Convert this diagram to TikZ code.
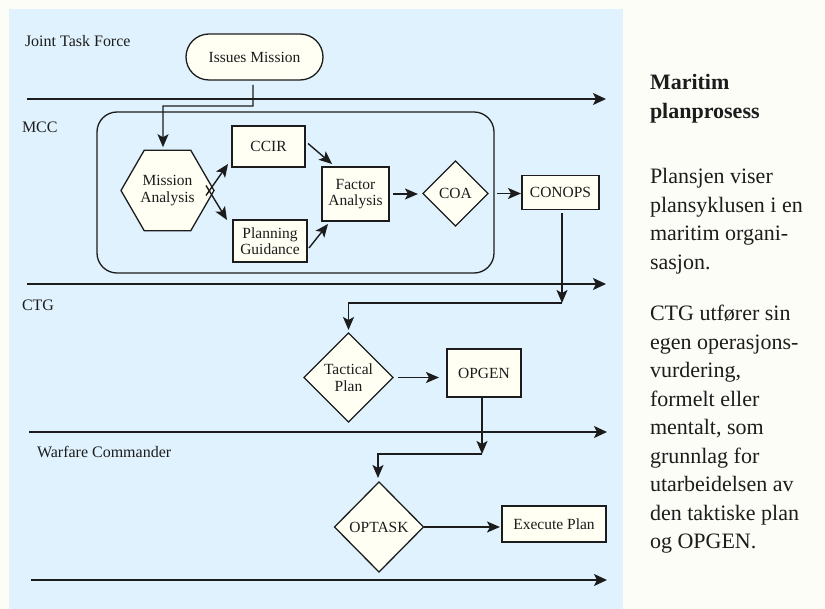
\documentclass[tikz,border=0pt]{standalone}
\usepackage{fontspec}
\setmainfont{Liberation Serif}
\usetikzlibrary{shapes.geometric,arrows.meta,calc}
\definecolor{bluebg}{RGB}{223,242,254}
\definecolor{cream}{RGB}{255,255,244}
\definecolor{panel}{RGB}{253,253,248}
\definecolor{ink}{RGB}{28,28,28}
\newcommand\dgfont{\fontsize{15.5}{16.5}\selectfont}
\newcommand\lanefont{\fontsize{16}{18}\selectfont}
\newcommand\sidefont{\fontsize{22}{28.5}\selectfont}
\begin{document}
\begin{tikzpicture}[x=1pt,y=-1pt,
  every node/.style={inner sep=0pt,outer sep=0pt,text=ink},
  shp/.style={draw=ink,fill=cream,line width=1.3pt,font=\dgfont,align=center},
  boxn/.style={shp,rectangle},
  stadium/.style={shp,rectangle,rounded corners=23pt,minimum width=137pt,minimum height=46pt},
  hexa/.style={shp,regular polygon,regular polygon sides=6,minimum size=93pt},
  dia/.style={shp,diamond,aspect=1},
  container/.style={draw=ink,line width=1.3pt,rectangle,rounded corners=20pt},
  lanelbl/.style={font=\lanefont,anchor=base west},
  arr/.style={draw=ink,line width=1.4pt,-{Stealth[length=13pt,width=11pt,inset=3pt]}},
  lane/.style={draw=ink,line width=1.5pt,-{Stealth[length=13pt,width=12pt,inset=3pt]}}
]
\useasboundingbox (0,0) rectangle (825,609);
\fill[panel] (0,0) rectangle (825,609);
\fill[bluebg] (9,9) rectangle (623,609);

% lane labels
\node[lanelbl] (ljtf) at (25,46.5) {Joint Task Force};
\node[lanelbl] (lmcc) at (22,133) {MCC};
\node[lanelbl] (lctg) at (22,311) {CTG};
\node[lanelbl] (lwc) at (37,458) {Warfare Commander};

% lane lines
\coordinate (l1s) at (27,99);  \coordinate (l1e) at (606,99);
\coordinate (l2s) at (27,284); \coordinate (l2e) at (606,284);
\coordinate (l3s) at (29,432); \coordinate (l3e) at (607,432);
\coordinate (l4s) at (31,580); \coordinate (l4e) at (607,580);
\draw[lane] (l1s) -- (l1e);
\draw[lane] (l2s) -- (l2e);
\draw[lane] (l3s) -- (l3e);
\draw[lane] (l4s) -- (l4e);

% MCC container
\node[container,minimum width=397pt,minimum height=161pt] (mcc) at (295.5,192.5) {};

% nodes
\node[stadium] (im) at (254.5,57) {Issues Mission};
\node[hexa] (ma) at (167.5,190.5) {Mission\\Analysis};
\node[boxn,minimum width=73pt,minimum height=41pt] (ccir) at (268.5,146.5) {CCIR};
\node[boxn,minimum width=74pt,minimum height=42pt] (pg) at (270,241) {Planning\\Guidance};
\node[boxn,minimum width=67pt,minimum height=54pt] (fa) at (355.5,194) {Factor\\Analysis};
\node[dia,minimum width=65pt,minimum height=65pt] (coa) at (455.5,193.5) {COA};
\node[boxn,minimum width=77pt,minimum height=34pt] (conops) at (560.5,192.5) {CONOPS};
\node[dia,minimum width=89pt,minimum height=89pt] (tp) at (348.5,377.5) {Tactical\\Plan};
\node[boxn,minimum width=74pt,minimum height=48pt] (opgen) at (484,373) {OPGEN};
\node[dia,minimum width=89pt,minimum height=90pt] (ot) at (379,527) {OPTASK};
\node[boxn,minimum width=104pt,minimum height=36pt] (ex) at (554,524) {Execute Plan};

% connectors
\coordinate (b1) at (163,106);
\draw[arr] ($(im.south)+(-1.5,5)$) |- (b1) -- ($(ma.north)+(-4.5,-3)$);
\draw[arr] ($(ma.east)+(-8,5)$) -- ($(ccir.south west)+(-4,-3)$);
\draw[arr] ($(ma.east)+(-8,-5)$) -- ($(pg.north west)+(-6,0)$);
\draw[arr] ($(ccir.east)+(3,-3)$) -- ($(fa.north west)+(10,-3)$);
\draw[arr] ($(pg.east)+(2,7)$) -- ($(fa.south west)+(6,3)$);
\draw[arr] ($(fa.east)+(4,0)$) -- ($(coa.west|-fa.east)+(-5,0)$);
\draw[arr] ($(coa.east)+(9,0)$) -- ($(conops.west|-coa.east)+(-1,0)$);

\coordinate (b2) at (562,303);
\draw[arr] ($(conops.south)+(1.5,4)$) -- (b2);
\draw[arr] (b2) -| ($(tp.north)+(0,-3)$);
\draw[arr] ($(tp.east)+(5,0)$) -- ($(opgen.west|-tp.east)+(-8,0)$);

\coordinate (b3) at (482,454);
\draw[arr] ($(opgen.south)+(-2,0)$) -- (b3);
\draw[arr] (b3) -| ($(ot.north)+(-1,-4)$);
\draw[arr] (ot.east) -- ($(ex.west|-ot.east)+(-2,0)$);

% side text
\node[anchor=north west,align=left,font=\sidefont] (side) at (650,74.5)
{\textbf{Maritim}\\\textbf{planprosess}\\[37pt]Plansjen viser\\plansyklusen i en\\maritim organi-\\sasjon.\\[23pt]CTG utfører sin\\egen operasjons-\\vurdering,\\formelt eller\\mentalt, som\\grunnlag for\\utarbeidelsen av\\den taktiske plan\\og OPGEN.};
\end{tikzpicture}
\end{document}
